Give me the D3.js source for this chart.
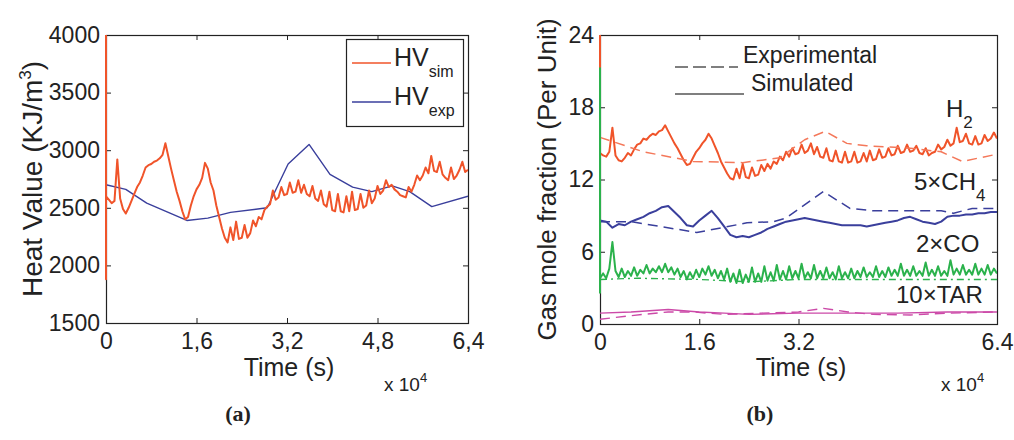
<!DOCTYPE html>
<html><head><meta charset="utf-8">
<script src="https://cdn.jsdelivr.net/npm/d3@7/dist/d3.min.js"></script>
<style>body{margin:0;background:#fff}svg{display:block}text{font-family:"Liberation Sans",Arial,Helvetica,sans-serif;fill:#222}</style>
</head><body>
<svg id="c" width="1014" height="440"></svg>
<script>
// ---------- DATA (time in units of 10^4 s) ----------
// Panel (a): heat value
const hvSimStep = 0.05;
const hvSimStart = [4100, 1880];
const hvSim = [2600,2570,2540,2560,2920,2580,2490,2450,2500,2560,2620,2680,2720,2780,2850,2870,2880,2900,2910,2930,
  2960,3060,2950,2840,2740,2640,2560,2470,2400,2420,2520,2600,2660,2700,2760,2890,2840,2720,2650,2520,
  2420,2320,2240,2200,2330,2220,2380,2230,2240,2350,2240,2280,2390,2340,2420,2400,2480,2510,2530,2650,
  2570,2590,2680,2610,2620,2720,2630,2640,2740,2630,2700,2620,2600,2690,2580,2560,2650,2530,2510,2640,
  2480,2470,2620,2470,2460,2600,2470,2640,2480,2490,2620,2500,2520,2650,2540,2580,2690,2620,2650,2740,
  2680,2700,2660,2640,2610,2600,2590,2680,2640,2700,2780,2740,2780,2850,2800,2950,2820,2810,2900,2790,
  2760,2740,2850,2750,2780,2830,2900,2810,2830];
const hvExpTime = [0, 0.35, 0.72, 1.43, 1.8, 2.2, 2.85, 3.22, 3.59, 3.96, 4.36, 4.7, 5.06, 5.37, 5.76, 6.4];
const hvExp = [2700, 2660, 2540, 2390, 2410, 2460, 2500, 2880, 3050, 2790, 2680, 2640, 2690, 2640, 2510, 2600];
const hvXTicks = [0, 1.6, 3.2, 4.8, 6.4];
const hvXTickLabels = ["0", "1,6", "3,2", "4,8", "6,4"];
const hvYTicks = [1500, 2000, 2500, 3000, 3500, 4000];

// Panel (b): gas mole fractions
const gasSimStep = 0.05;
const h2SimStart = [25, 21.3];
const h2Sim = [14.2,14.0,13.9,14.3,16.3,14.0,13.6,13.5,13.8,14.2,14.0,14.5,14.9,15.0,15.4,15.3,15.6,15.8,15.7,16.0,
  16.1,16.5,16.0,15.5,15.0,14.6,14.1,13.6,13.2,13.3,13.8,14.3,14.6,15.0,15.3,15.8,15.4,14.8,14.2,13.5,
  13.0,12.5,12.1,12.0,12.9,12.1,13.3,12.2,12.1,13.0,12.3,12.4,13.2,12.7,13.3,12.9,13.5,13.3,13.9,13.6,
  14.3,13.9,14.6,14.1,14.2,14.9,14.2,14.4,15.0,14.1,14.7,13.9,13.8,14.6,13.6,13.5,14.4,13.5,13.4,14.3,
  13.4,13.5,14.3,13.4,13.5,14.2,13.5,14.4,13.6,13.7,14.5,13.8,13.9,14.6,14.0,14.1,14.8,14.2,14.3,14.9,
  14.3,14.4,14.8,14.2,14.1,14.6,14.0,14.2,14.3,14.9,14.5,14.7,15.3,14.8,15.0,16.3,15.1,15.2,15.8,15.0,
  14.9,15.6,14.9,15.0,15.7,15.2,15.4,15.9,15.4];
const h2ExpTime = [0, 0.7, 1.5, 2.3, 2.9, 3.3, 3.63, 3.98, 4.3, 5.0, 5.5, 5.84, 6.4];
const h2Exp = [15.5, 14.3, 13.5, 13.4, 13.8, 15.3, 16.0, 15.0, 14.8, 14.6, 14.3, 13.5, 14.1];

const ch4SimStep = 0.1;
const ch4Sim = [8.6,8.5,8.0,8.3,8.2,8.5,8.7,8.9,9.2,9.4,9.7,9.8,9.3,8.8,8.2,8.1,8.6,9.0,9.4,8.8,
  8.1,7.4,7.2,7.3,7.2,7.4,7.6,7.9,8.1,8.3,8.5,8.6,8.7,8.8,8.7,8.6,8.5,8.4,8.3,8.2,
  8.2,8.2,8.2,8.1,8.2,8.3,8.4,8.5,8.6,8.8,8.9,8.7,8.5,8.4,8.3,8.5,8.9,9.0,9.0,9.1,
  9.1,9.2,9.2,9.3,9.3];
const ch4ExpTime = [0, 0.5, 1.56, 2.37, 2.8, 3.0, 3.6, 4.03, 4.4, 5.5, 5.7, 6.0, 6.4];
const ch4Exp = [8.5, 8.5, 7.6, 8.4, 8.5, 8.8, 11.0, 9.6, 9.4, 9.4, 9.2, 9.6, 9.6];

const coSimStart = [21.3, 2.6];
const coSim = [3.8,4.2,3.8,4.6,6.8,4.4,3.9,4.6,3.9,4.4,4.0,4.7,4.0,4.5,4.2,4.9,4.2,4.6,4.3,4.8,
  4.3,5.0,4.3,4.7,4.1,4.6,3.9,4.4,3.7,4.3,3.8,4.5,3.9,4.6,4.1,4.8,4.0,4.5,3.8,4.4,
  3.7,4.6,3.5,4.2,3.4,4.5,3.4,4.1,3.5,4.7,3.5,4.2,3.5,4.8,3.6,4.3,3.6,4.9,3.7,4.4,
  3.7,4.8,3.8,4.4,3.8,5.0,3.8,4.3,3.8,4.9,3.8,4.4,3.8,4.7,3.8,4.3,3.7,4.8,3.8,4.3,
  3.8,4.6,3.8,4.4,3.9,4.7,3.9,4.3,3.9,4.8,3.9,4.4,3.9,4.7,4.0,4.5,4.0,5.0,4.0,4.5,
  4.0,4.8,4.0,4.4,4.0,5.1,4.0,4.5,4.0,4.8,4.0,4.4,4.0,5.3,4.1,4.6,4.1,4.9,4.1,4.5,
  4.1,5.0,4.1,4.6,4.1,4.9,4.1,4.6,4.2];
const coExpTime = [0, 0.6, 1.6, 2.4, 3.2, 4.0, 4.8, 5.6, 6.4];
const coExp = [3.7, 3.8, 3.7, 3.5, 3.7, 3.7, 3.7, 3.7, 3.7];

const tarSimTime = [0, 0.5, 1.1, 1.6, 2.0, 2.4, 3.2, 4.0, 4.8, 5.6, 6.4];
const tarSim = [0.9, 1.0, 1.2, 1.0, 0.9, 0.8, 0.9, 0.9, 0.9, 1.0, 1.0];
const tarExpTime = [0, 0.7, 1.1, 1.5, 2.0, 2.6, 3.2, 3.6, 4.0, 4.4, 5.0, 5.6, 6.4];
const tarExp = [0.4, 0.8, 1.0, 1.0, 0.8, 0.9, 1.0, 1.3, 1.0, 0.8, 0.75, 0.9, 1.0];

const gasXTicks = [0, 1.6, 3.2, 6.4];
const gasXTickLabels = ["0", "1.6", "3.2", "6.4"];
const gasYTicks = [0, 6, 12, 18, 24];

// ---------- DRAWING ----------
const svg = d3.select("#c");
const C = {red:"#f0542a", redDash:"#f4785a", blue:"#3a3f9c", green:"#2bb24c", mag:"#cc4aa8", ink:"#222"};
const FS = 23;

function dense(vals, step, start) {
  const pts = (start || []).map(v => [0, v]);
  return pts.concat(vals.map((v, i) => [i * step, v]));
}
function pairs(ts, vs) { return ts.map((t, i) => [t, vs[i]]); }

function panel(cfg) {
  const g = svg.append("g");
  const x = d3.scaleLinear().domain([0, 6.4]).range([cfg.x0, cfg.x1]);
  const y = d3.scaleLinear().domain(cfg.yDomain).range([cfg.y1, cfg.y0]);
  const id = "clip" + cfg.name;
  svg.append("clipPath").attr("id", id).append("rect")
    .attr("x", cfg.x0 - 1.5).attr("y", cfg.y0).attr("width", cfg.x1 - cfg.x0 + 1.5).attr("height", cfg.y1 - cfg.y0);

  const ax = (gen, tx, ty) => {
    const a = g.append("g").attr("transform", `translate(${tx},${ty})`).call(gen);
    a.select(".domain").remove();
    a.selectAll("line").attr("stroke", C.ink);
    a.selectAll("text").attr("font-size", FS).attr("fill", C.ink)
      .style("font-family", '"Liberation Sans", Arial, sans-serif');
    return a;
  };
  ax(d3.axisBottom(x).tickValues(cfg.xTicks).tickSize(-5).tickPadding(10)
     .tickFormat((d, i) => cfg.xLabels[i]), 0, cfg.y1);
  ax(d3.axisTop(x).tickValues(cfg.xTicks).tickSize(-5).tickFormat(""), 0, cfg.y0);
  ax(d3.axisLeft(y).tickValues(cfg.yTicks).tickSize(-5).tickPadding(6).tickFormat(d3.format("d")), cfg.x0, 0);
  ax(d3.axisRight(y).tickValues(cfg.yTicks).tickSize(-5).tickFormat(""), cfg.x1, 0);
  g.append("rect").attr("x", cfg.x0 + 0.5).attr("y", cfg.y0 + 0.5)
    .attr("width", cfg.x1 - cfg.x0).attr("height", cfg.y1 - cfg.y0)
    .attr("fill", "none").attr("stroke", C.ink).attr("stroke-width", 1.2);

  const line = d3.line().x(d => x(d[0])).y(d => y(d[1]));
  const sg = svg.append("g").attr("clip-path", `url(#${id})`);
  cfg.series.forEach(s => {
    sg.append("path").attr("d", line(s.pts)).attr("fill", "none")
      .attr("stroke", s.color).attr("stroke-width", s.w || 1.6)
      .attr("stroke-dasharray", s.dash || null).attr("stroke-linejoin", "round");
  });

  // x label and multiplier
  g.append("text").attr("x", cfg.xLabelX).attr("y", 376).attr("text-anchor", "middle")
    .attr("font-size", 25).text("Time (s)");
  const m = g.append("text").attr("x", cfg.multX).attr("y", 391).attr("font-size", 19);
  m.append("tspan").text("x 10");
  m.append("tspan").attr("font-size", 13).attr("dy", -9).text("4");
  // y label
  const yl = g.append("text").attr("transform", `translate(${cfg.yLabelX},${(cfg.y0 + cfg.y1) / 2}) rotate(-90)`)
    .attr("text-anchor", "middle").attr("font-size", cfg.yLabelSize);
  cfg.yLabel(yl);
  // panel caption
  g.append("text").attr("x", cfg.capX).attr("y", 421).attr("text-anchor", "middle")
    .style("font-family", '"Liberation Serif", "Times New Roman", serif')
    .attr("font-weight", "bold").attr("font-size", 22).text(cfg.caption);
  return {x, y, g};
}

// Panel (a)
panel({
  name: "a", x0: 106, x1: 468, y0: 35, y1: 323, yDomain: [1500, 4000],
  xTicks: hvXTicks, xLabels: hvXTickLabels, yTicks: hvYTicks,
  xLabelX: 289, multX: 384, yLabelX: 42, yLabelSize: 28, capX: 238, caption: "(a)",
  yLabel: t => { t.append("tspan").text("Heat Value (KJ/m");
                 t.append("tspan").attr("font-size", 17).attr("dy", -11).text("3");
                 t.append("tspan").attr("dy", 11).text(")"); },
  series: [
    {pts: pairs(hvExpTime, hvExp), color: C.blue, w: 1.4},
    {pts: dense(hvSim, hvSimStep, hvSimStart), color: C.red, w: 2}
  ]
});
// legend (a)
{
  const lg = svg.append("g");
  lg.append("rect").attr("x", 346.5).attr("y", 39.5).attr("width", 117).attr("height", 87)
    .attr("fill", "#fff").attr("stroke", C.ink).attr("stroke-width", 1.2);
  const items = [{c: C.red, sub: "sim", y: 63}, {c: C.blue, sub: "exp", y: 102}];
  items.forEach(it => {
    lg.append("line").attr("x1", 352).attr("x2", 391).attr("y1", it.y).attr("y2", it.y)
      .attr("stroke", it.c).attr("stroke-width", 1.6);
    const t = lg.append("text").attr("x", 394).attr("y", it.y + 3).attr("font-size", 25);
    t.append("tspan").text("HV");
    t.append("tspan").attr("font-size", 16).attr("dy", 11).text(it.sub);
  });
}

// Panel (b)
panel({
  name: "b", x0: 600, x1: 997, y0: 35, y1: 324, yDomain: [0, 24],
  xTicks: gasXTicks, xLabels: gasXTickLabels, yTicks: gasYTicks,
  xLabelX: 801, multX: 941, yLabelX: 556, yLabelSize: 26, capX: 760, caption: "(b)",
  yLabel: t => t.text("Gas mole fraction (Per Unit)"),
  series: [
    {pts: dense(h2Sim, gasSimStep, h2SimStart), color: C.red, w: 2},
    {pts: pairs(h2ExpTime, h2Exp), color: C.redDash, w: 1.5, dash: "10,6"},
    {pts: pairs(ch4ExpTime, ch4Exp), color: C.blue, w: 1.5, dash: "10,6"},
    {pts: dense(ch4Sim, ch4SimStep), color: C.blue, w: 2},
    {pts: dense(coSim, gasSimStep, coSimStart), color: C.green, w: 2},
    {pts: pairs(coExpTime, coExp), color: C.green, w: 1.4, dash: "7,4,2,4"},
    {pts: pairs(tarExpTime, tarExp), color: C.mag, w: 1.4, dash: "10,6"},
    {pts: pairs(tarSimTime, tarSim), color: C.mag, w: 1.4}
  ]
});
// legend (b)
{
  const lg = svg.append("g");
  lg.append("line").attr("x1", 675).attr("x2", 738).attr("y1", 67).attr("y2", 67)
    .attr("stroke", "#555").attr("stroke-width", 1.4).attr("stroke-dasharray", "13,5");
  lg.append("line").attr("x1", 675).attr("x2", 744).attr("y1", 94).attr("y2", 94)
    .attr("stroke", "#555").attr("stroke-width", 1.4);
  lg.append("text").attr("x", 743).attr("y", 63).attr("font-size", 23).text("Experimental");
  lg.append("text").attr("x", 751).attr("y", 91).attr("font-size", 23).text("Simulated");
  const labels = [
    {x: 946, y: 117, main: "H", sub: "2"},
    {x: 914, y: 190, main: "5×CH", sub: "4"},
    {x: 916, y: 252, main: "2×CO", sub: ""},
    {x: 896, y: 303, main: "10×TAR", sub: ""}
  ];
  labels.forEach(l => {
    const t = lg.append("text").attr("x", l.x).attr("y", l.y).attr("font-size", 24);
    t.append("tspan").text(l.main);
    if (l.sub) t.append("tspan").attr("font-size", 17).attr("dy", 11).text(l.sub);
  });
}
</script>
</body></html>
